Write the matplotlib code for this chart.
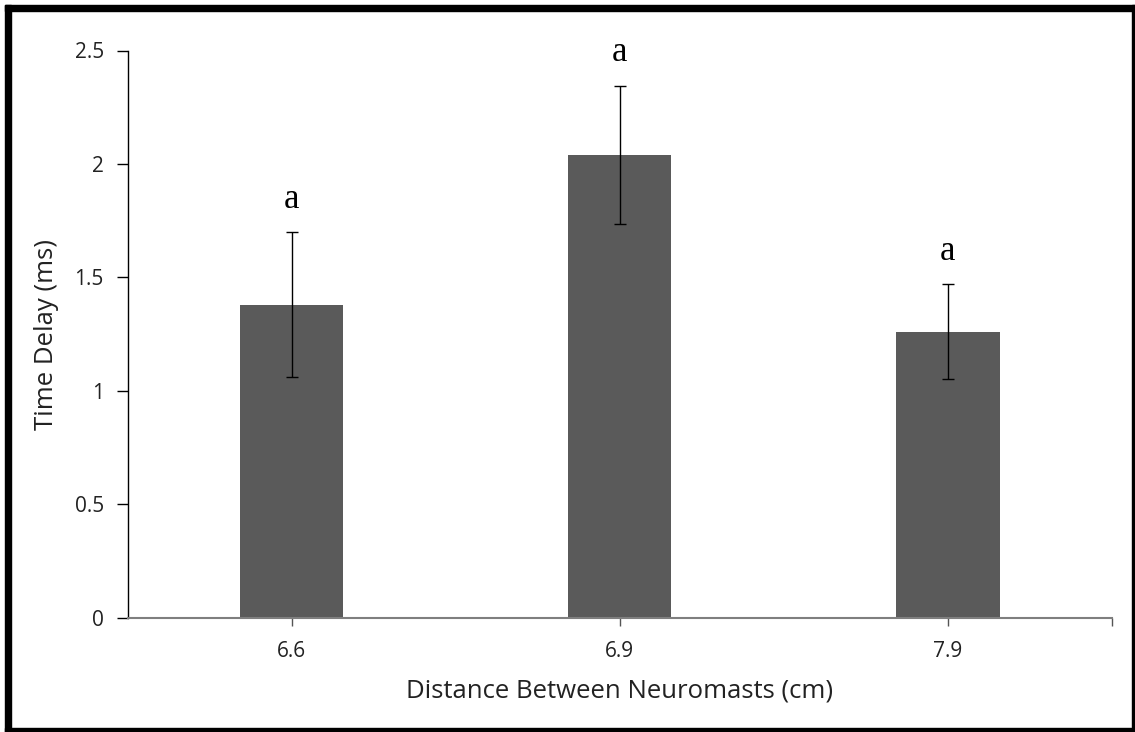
import numpy as np
import matplotlib.pyplot as plt
from matplotlib.patches import Rectangle

# Mean time delay per neuromast spacing, with error bar half-widths
distances = ['6.6', '6.9', '7.9']
time_delay = [1.38, 2.04, 1.26]
delay_err = [0.318, 0.305, 0.21]
group_letters = ['a', 'a', 'a']

W, H = 1135, 732
fig = plt.figure(figsize=(W / 100, H / 100), dpi=100)
ax = fig.add_axes([127.5 / W, 1 - 617.7 / H, (1112 - 127.5) / W, (617.7 - 50.5) / H])

x = np.arange(len(distances))
ax.bar(x, time_delay, width=0.315, color='#5a5a5a', zorder=2)
ax.errorbar(x, time_delay, yerr=delay_err, fmt='none', ecolor='black',
            elinewidth=1.0, capsize=4.5, capthick=1.0, zorder=3)

for xi, top, letter in zip(x, np.add(time_delay, delay_err), group_letters):
    ax.annotate(letter, (xi, top), xytext=(0, 12), textcoords='offset points',
                ha='center', va='bottom', fontsize=25,
                family='Liberation Serif', color='black')

ax.set_xlim(-0.5, 2.5)
ax.set_ylim(0, 2.5)
ax.set_yticks([0, 0.5, 1, 1.5, 2, 2.5])
ax.set_yticklabels(['0', '0.5', '1', '1.5', '2', '2.5'])
ax.set_xticks(x)
ax.set_xticklabels(distances)
ax.set_xticks([2.5], minor=True)

ax.tick_params(axis='both', labelsize=15, labelfontfamily='Open Sans',
               labelcolor='#222222')
ax.tick_params(axis='y', direction='out', length=8, width=1, pad=9, color='black')
ax.tick_params(axis='x', which='both', direction='out', length=6, width=1,
               pad=11, color='#555555')

ax.spines['top'].set_visible(False)
ax.spines['right'].set_visible(False)
ax.spines['left'].set_color('black')
ax.spines['left'].set_linewidth(1)
ax.spines['bottom'].set_color('#7f7f7f')
ax.spines['bottom'].set_linewidth(1.5)
ax.spines['bottom'].set_zorder(4)

ax.set_xlabel('Distance Between Neuromasts (cm)', fontsize=18.5,
              family='Open Sans', color='#222222', labelpad=12)
ax.set_ylabel('Time Delay (ms)', fontsize=18.5, family='Open Sans',
              color='#222222', labelpad=11)

# outer frame: heavier on the top/left edges
for (x0, y0, w, h) in [(5, 5, 6, H - 5), (5, 5, W - 5, 6),
                       (W - 3, 5, 3, H - 5), (5, H - 4, W - 5, 4)]:
    fig.patches.append(Rectangle((x0 / W, 1 - (y0 + h) / H), w / W, h / H,
                                 transform=fig.transFigure, color='black',
                                 zorder=10))

fig.savefig('out.png', dpi=100)
